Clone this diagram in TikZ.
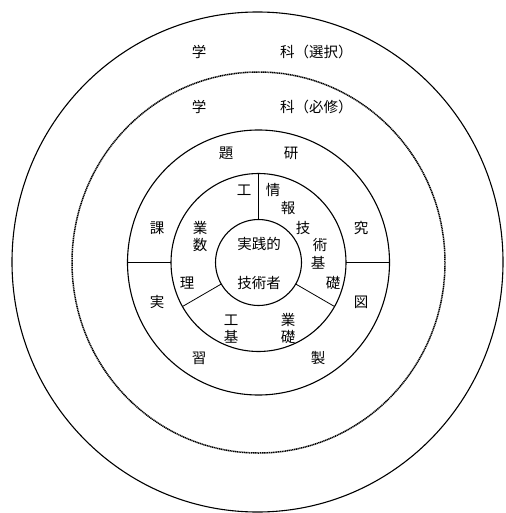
\documentclass[tikz,border=0pt]{standalone}
\usepackage{fontspec}
\newfontfamily\jp{Noto Sans CJK JP}
\begin{document}
\begin{tikzpicture}[x=1pt,y=-1pt,
  ring/.style={draw=black,line width=1.1pt},
  dotring/.style={draw=black,line width=1.5pt,dash pattern=on 1.2pt off 0.6pt},
  div/.style={draw=black,line width=0.8pt},
  lbl/.style={inner sep=0pt,font=\jp\fontsize{14.5}{16}\selectfont}]
\useasboundingbox (0,0) rectangle (505,513);
\coordinate (c) at (258.5,262.5);
% circles
\draw[ring] (257.5,262) ellipse [x radius=245.5, y radius=250];
\draw[dotring] (c) ellipse [x radius=186.5, y radius=190.5];
\draw[ring] (c) ellipse [x radius=131, y radius=132.5];
\draw[ring] (c) ellipse [x radius=87.5, y radius=89];
\draw[ring] (c) ellipse [x radius=43, y radius=43];
% dividers
\coordinate (v1) at (258.5,219.5);
\coordinate (v2) at (258.5,173.5);
\coordinate (hl1) at (127.5,262.5);
\coordinate (hl2) at (171,262.5);
\coordinate (hr1) at (346,262.5);
\coordinate (hr2) at (389.5,262.5);
\coordinate (sl1) at (221.3,284);
\coordinate (sl2) at (182.5,306.5);
\coordinate (sr1) at (295.7,284);
\coordinate (sr2) at (334.5,306.5);
\draw[div] (v1) -- (v2);
\draw[div] (hl1) -- (hl2);
\draw[div] (hr1) -- (hr2);
\draw[div] (sl1) -- (sl2);
\draw[div] (sr1) -- (sr2);
% outer labels
\node[lbl] (o1) at (199,52) {学};
\node[lbl,anchor=west] (o2) at (280,52) {科（選択）};
\node[lbl] (d1) at (199,107) {学};
\node[lbl,anchor=west] (d2) at (280,107) {科（必修）};
% ring 3
\node[lbl] (k1) at (226,153) {題};
\node[lbl] (k2) at (291,153) {研};
\node[lbl] (k3) at (157,228) {課};
\node[lbl] (k4) at (361,228) {究};
\node[lbl] (k5) at (157,302) {実};
\node[lbl] (k6) at (361,302) {図};
\node[lbl] (k7) at (199,358) {習};
\node[lbl] (k8) at (318,358) {製};
% ring 2 right
\node[lbl] (j1) at (273,190) {情};
\node[lbl] (j2) at (288,208) {報};
\node[lbl] (j3) at (303,228) {技};
\node[lbl] (j4) at (320,245) {術};
\node[lbl] (j5) at (318,263) {基};
\node[lbl] (j6) at (333,283) {礎};
% ring 2 left
\node[lbl] (m1) at (244,190) {工};
\node[lbl] (m2) at (200,228) {業};
\node[lbl] (m3) at (200,245) {数};
\node[lbl] (m4) at (187,283) {理};
% ring 2 bottom
\node[lbl] (b1) at (231,320) {工};
\node[lbl] (b2) at (288,320) {業};
\node[lbl] (b3) at (231,337) {基};
\node[lbl] (b4) at (288,337) {礎};
% center
\node[lbl] (z1) at (259,244) {実践的};
\node[lbl] (z2) at (259,283) {技術者};
\end{tikzpicture}
\end{document}
